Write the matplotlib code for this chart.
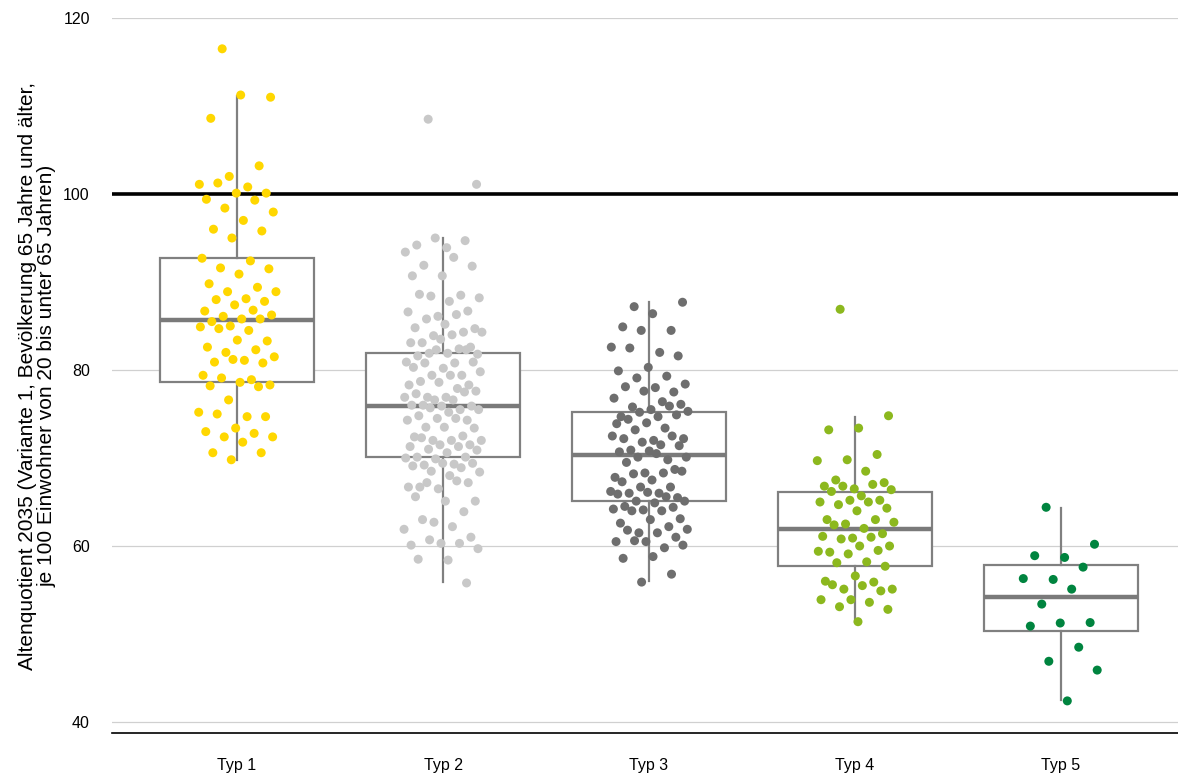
import matplotlib
matplotlib.use("Agg")
import matplotlib.pyplot as plt
import numpy as np

plt.rcParams['font.family'] = ['Liberation Sans', 'DejaVu Sans']

# categories and colours
types = ['Typ 1', 'Typ 2', 'Typ 3', 'Typ 4', 'Typ 5']
colors = ['#FFD700', '#C8C8C8', '#6E6E6E', '#8CB81E', '#00843F']

# box statistics
whis_lo = [69.8, 55.9, 56.0, 51.4, 42.5]
q1 = [78.6, 70.1, 65.1, 57.7, 50.3]
median = [85.7, 75.9, 70.3, 61.9, 54.2]
q3 = [92.7, 81.9, 75.2, 66.1, 57.8]
whis_hi = [111.1, 95.0, 87.7, 74.7, 64.3]

# single values (Altenquotient 2035) per type
typ1 = [116.5, 111.0, 111.25, 108.6, 103.2, 102.0, 101.1, 100.8, 101.25, 100.1,
        100.1, 99.4, 99.3, 98.4, 97.95, 97.0, 96.0, 95.8, 95.0, 92.7,
        92.4, 91.6, 91.5, 90.9, 89.8, 89.4, 88.9, 88.9, 88.1, 88.0,
        87.8, 87.4, 86.7, 86.8, 86.1, 86.25, 85.8, 85.5, 85.8, 85.0,
        84.9, 84.5, 84.7, 83.3, 83.4, 82.6, 82.3, 82.0, 81.5, 81.1,
        80.9, 80.8, 81.2, 79.4, 78.9, 79.1, 78.3, 78.6, 78.2, 78.1,
        76.6, 75.2, 74.7, 75.0, 74.7, 73.4, 73.0, 72.8, 72.4, 72.4,
        71.8, 70.6, 70.6, 69.8]
typ2 = [108.5, 101.1, 93.9, 94.2, 94.7, 95.0, 93.4, 92.8, 91.9, 91.8,
        90.7, 90.7, 88.5, 88.4, 88.2, 87.8, 88.6, 86.7, 86.1, 86.6,
        86.3, 85.8, 84.7, 85.2, 84.8, 84.3, 83.9, 84.3, 84.0, 83.1,
        82.6, 83.5, 83.1, 82.4, 81.9, 81.8, 81.9, 81.6, 82.3, 82.3,
        80.9, 80.8, 80.8, 80.9, 80.2, 80.3, 79.4, 79.4, 79.8, 79.4,
        78.7, 78.3, 78.6, 78.3, 77.9, 76.9, 77.6, 76.9, 77.3, 77.5,
        76.6, 76.9, 76.6, 76.0, 75.9, 75.9, 76.0, 75.5, 75.7, 75.5,
        75.2, 74.8, 74.3, 74.5, 74.3, 74.5, 73.5, 73.4, 73.5, 72.4,
        72.5, 72.0, 72.0, 72.0, 72.3, 71.5, 71.5, 71.3, 71.3, 71.0,
        70.9, 70.6, 70.1, 70.1, 69.9, 70.0, 69.3, 69.2, 69.4, 69.4,
        69.1, 68.9, 68.5, 68.4, 68.0, 66.7, 67.2, 66.5, 66.7, 67.4,
        67.2, 65.1, 65.1, 65.6, 63.9, 62.7, 61.9, 62.2, 63.0, 61.0,
        60.3, 60.1, 60.3, 60.7, 59.7, 58.4, 58.5, 55.8]
typ3 = [87.2, 87.7, 86.4, 84.9, 84.5, 84.5, 82.6, 82.0, 82.5, 81.6,
        80.3, 79.9, 79.3, 79.1, 78.4, 78.0, 78.1, 77.5, 77.6, 76.8,
        76.4, 75.8, 76.1, 75.5, 74.7, 75.9, 75.2, 75.3, 74.7, 74.4,
        74.9, 74.0, 73.9, 73.4, 73.2, 72.2, 72.0, 72.2, 72.5, 71.8,
        72.5, 71.5, 70.9, 71.4, 70.8, 70.7, 69.8, 70.1, 70.1, 70.5,
        69.5, 68.7, 68.3, 67.8, 68.3, 68.2, 68.5, 67.5, 67.3, 66.7,
        66.7, 66.2, 66.0, 66.0, 65.5, 66.1, 65.9, 65.6, 65.1, 65.1,
        64.9, 64.5, 64.4, 64.1, 64.2, 64.0, 64.0, 63.1, 63.0, 62.6,
        62.2, 61.5, 61.9, 61.5, 61.8, 61.0, 60.5, 60.5, 59.8, 60.6,
        60.1, 58.8, 58.6, 56.8, 55.9]
typ4 = [86.9, 74.8, 73.4, 73.2, 70.4, 69.8, 69.7, 68.5, 67.5, 67.2,
        66.5, 66.8, 67.0, 66.8, 66.4, 65.7, 66.2, 65.2, 65.2, 65.0,
        65.0, 64.7, 64.3, 64.0, 63.0, 63.0, 62.5, 62.7, 62.0, 62.4,
        61.4, 60.9, 61.1, 61.0, 60.8, 60.0, 60.0, 59.3, 59.5, 59.1,
        59.4, 58.2, 58.1, 57.7, 56.6, 56.0, 55.9, 55.1, 55.1, 55.5,
        55.6, 54.9, 53.9, 53.9, 53.6, 53.1, 52.8, 51.4]
typ5 = [64.4, 60.2, 58.7, 58.9, 57.6, 56.2, 56.3, 55.1, 53.4, 51.3,
        51.25, 50.9, 48.5, 46.9, 45.9, 42.4]
values = [typ1, typ2, typ3, typ4, typ5]

fig = plt.figure(figsize=(11.78, 7.76), dpi=100)
ax = fig.add_axes([0.0951, 0.0554, 0.9049, 0.9214])

# grid
for g in [40, 60, 80, 120]:
    ax.axhline(g, color='#D0D0D0', lw=0.9, zorder=0)

# boxes
stats = []
for i in range(len(types)):
    stats.append(dict(med=median[i], q1=q1[i], q3=q3[i],
                      whislo=whis_lo[i], whishi=whis_hi[i], fliers=[]))
pos = np.arange(len(types))
ax.bxp(stats, positions=pos, widths=0.75, showcaps=False, showfliers=False,
       patch_artist=True,
       boxprops=dict(facecolor='white', edgecolor='#808080', lw=1.6),
       whiskerprops=dict(color='#808080', lw=1.6),
       medianprops=dict(color='#7A7A7A', lw=3.2),
       zorder=2)

# reference line at 100
ax.axhline(100, color='black', lw=2.6, zorder=3)

# jittered points (deterministic spread)
for i, vals in enumerate(values):
    n = len(vals)
    frac = (np.arange(n) * 0.6180339887 + 0.31) % 1.0
    xs = pos[i] + 0.19 * (2 * frac - 1)
    ax.scatter(xs, vals, s=42, color=colors[i], edgecolors='none', zorder=4)

ax.set_xlim(-0.607, 4.568)
ax.set_ylim(38.75, 120)
ax.set_yticks([40, 60, 80, 100, 120])
ax.set_xticks(pos)
ax.set_xticklabels(types)
ax.tick_params(axis='both', length=0, labelsize=11.5)
ax.tick_params(axis='x', pad=18)
ax.tick_params(axis='y', pad=16)

for s in ['top', 'right', 'left']:
    ax.spines[s].set_visible(False)
ax.spines['bottom'].set_color('black')
ax.spines['bottom'].set_linewidth(1.2)

ax.set_ylabel('Altenquotient 2035 (Variante 1, Bevölkerung 65 Jahre und älter,\n'
              'je 100 Einwohner von 20 bis unter 65 Jahren)',
              fontsize=15, linespacing=1.05)
ax.yaxis.set_label_coords(-0.0516, 0.5)

fig.savefig('out.png', dpi=100)
